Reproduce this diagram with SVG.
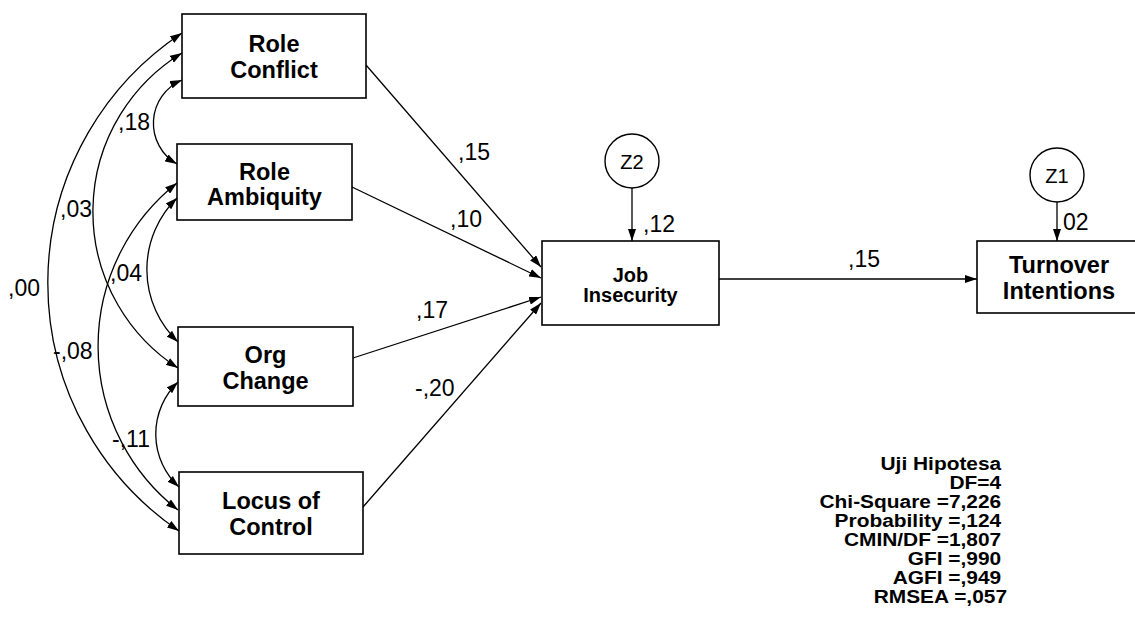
<svg xmlns="http://www.w3.org/2000/svg" width="1135" height="619" viewBox="0 0 1135 619">
  <style>
    .box { fill: #fff; stroke: #000; stroke-width: 1.6; }
    .lat { fill: #fff; stroke: #000; stroke-width: 1.4; }
    .name { font-family: "Liberation Sans", Arial, sans-serif; font-weight: bold; font-size: 23.5px; text-anchor: middle; fill: #000; }
    .small { font-size: 20px; }
    .lbl { font-family: "Liberation Sans", Arial, sans-serif; font-size: 23px; fill: #000; }
    .zl { font-family: "Liberation Sans", Arial, sans-serif; font-size: 20px; text-anchor: middle; fill: #000; }
    .edge { fill: none; stroke: #000; stroke-width: 1.3; }
    .path { marker-end: url(#head); }
    .cov { marker-start: url(#head); marker-end: url(#head); }
    .fit { font-family: "Liberation Sans", Arial, sans-serif; font-weight: bold; font-size: 18.5px; text-anchor: end; fill: #000; }
  </style>
  <defs>
    <marker id="head" viewBox="0 0 12 8" refX="12" refY="4" markerWidth="12" markerHeight="8" markerUnits="userSpaceOnUse" orient="auto-start-reverse">
      <path d="M0,0 L12,4 L0,8 z" fill="#000"/>
    </marker>
  </defs>

  <rect width="1135" height="619" fill="#fff"/>

  <!-- connectors -->
  <g id="connectors" class="edge">
    <!-- covariances between exogenous variables (circular arcs) -->
    <path class="cov" d="M182,33 A300,300 0 0,0 179,531"/>
    <path class="cov" d="M182,53 A186,186 0 0,0 178,368"/>
    <path class="cov" d="M182,80 A47,47 0 0,0 177,164"/>
    <path class="cov" d="M177,183 A208,208 0 0,0 178,510"/>
    <path class="cov" d="M177,198 A100,100 0 0,0 178,342"/>
    <path class="cov" d="M178,382 A72,72 0 0,0 179,487"/>
    <!-- regression paths -->
    <path class="path" d="M366,65 L541,267"/>
    <path class="path" d="M352,187 L541,278"/>
    <path class="path" d="M353,358 L541,297"/>
    <path class="path" d="M363,507 L541,303"/>
    <path class="path" d="M719,279 L977,279"/>
    <path class="path" d="M632,188 L632,241"/>
    <path class="path" d="M1057,202 L1057,241"/>
  </g>

  <!-- coefficient labels -->
  <g id="labels">
    <text class="lbl" x="118" y="130">,18</text>
    <text class="lbl" x="60" y="217">,03</text>
    <text class="lbl" x="8" y="296">,00</text>
    <text class="lbl" x="110" y="281">,04</text>
    <text class="lbl" x="53" y="359">-,08</text>
    <text class="lbl" x="112" y="447">-,11</text>
    <text class="lbl" x="458" y="160">,15</text>
    <text class="lbl" x="450" y="227">,10</text>
    <text class="lbl" x="416" y="318">,17</text>
    <text class="lbl" x="415" y="396">-,20</text>
    <text class="lbl" x="643" y="232">,12</text>
    <text class="lbl" x="1063" y="230">02</text>
    <text class="lbl" x="848" y="267">,15</text>
  </g>

  <g id="role-conflict">
    <rect class="box" x="182" y="14" width="184" height="84"/>
    <text class="name"><tspan x="274" y="52">Role</tspan><tspan x="274" y="78">Conflict</tspan></text>
  </g>
  <g id="role-ambiquity">
    <rect class="box" x="177" y="144" width="175" height="76"/>
    <text class="name"><tspan x="264.5" y="180">Role</tspan><tspan x="264.5" y="205">Ambiquity</tspan></text>
  </g>
  <g id="org-change">
    <rect class="box" x="178" y="327" width="175" height="79"/>
    <text class="name"><tspan x="265.5" y="363">Org</tspan><tspan x="265.5" y="389">Change</tspan></text>
  </g>
  <g id="locus-of-control">
    <rect class="box" x="179" y="472" width="184" height="82"/>
    <text class="name"><tspan x="271" y="509">Locus of</tspan><tspan x="271" y="535">Control</tspan></text>
  </g>
  <g id="job-insecurity">
    <rect class="box" x="542" y="241" width="177" height="84"/>
    <text class="name small"><tspan x="630.5" y="282">Job</tspan><tspan x="630.5" y="302">Insecurity</tspan></text>
  </g>
  <g id="turnover-intentions">
    <rect class="box" x="977" y="241" width="172" height="72"/>
    <text class="name"><tspan x="1059" y="273">Turnover</tspan><tspan x="1059" y="299">Intentions</tspan></text>
  </g>
  <g id="z2">
    <circle class="lat" cx="632" cy="161" r="27"/>
    <text class="zl" x="632" y="169">Z2</text>
  </g>
  <g id="z1">
    <circle class="lat" cx="1057" cy="175" r="27"/>
    <text class="zl" x="1057" y="183">Z1</text>
  </g>

  <!-- model fit summary -->
  <g id="fit-summary" transform="translate(1007 0) scale(1.13 1)">
    <text class="fit">
      <tspan x="0" y="470">Uji Hipotesa</tspan>
      <tspan x="0" y="489">DF=4</tspan>
      <tspan x="0" y="508">Chi-Square =7,226</tspan>
      <tspan x="0" y="527">Probability =,124</tspan>
      <tspan x="0" y="546">CMIN/DF =1,807</tspan>
      <tspan x="0" y="565">GFI =,990</tspan>
      <tspan x="0" y="584">AGFI =,949</tspan>
      <tspan x="0" y="603">RMSEA =,057</tspan>
    </text>
  </g>
</svg>
